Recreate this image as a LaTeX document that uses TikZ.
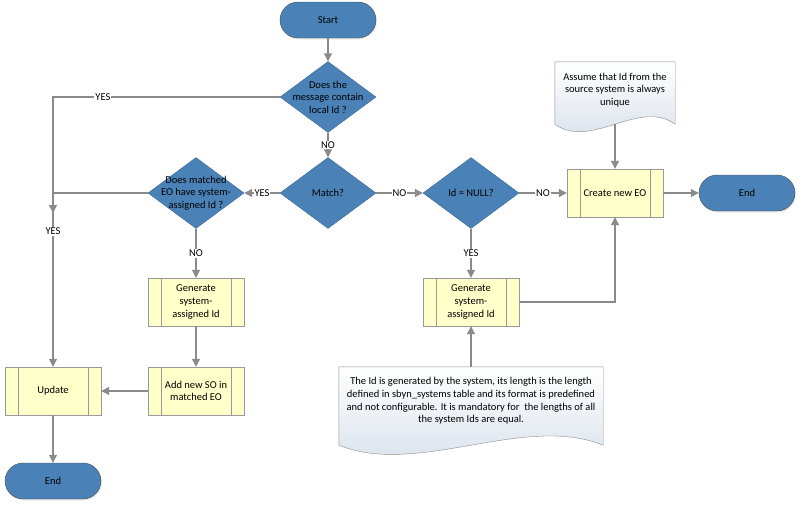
\documentclass[tikz,border=0pt]{standalone}
\usepackage{fontspec}
\setmainfont{Carlito}
\usetikzlibrary{shapes.geometric,arrows.meta,calc,backgrounds,shadows}
\definecolor{flowblue}{HTML}{4A82B7}
\definecolor{flowblueline}{HTML}{3B6A96}
\definecolor{procyellow}{HTML}{FFFFC9}
\definecolor{linegray}{HTML}{8A8A8A}
\definecolor{notebottom}{HTML}{D5DEEA}
\newcommand{\docshape}[3]{%
  \path[notebox] (#1.north west) -- (#1.north east) -- ($(#1.south east)+(0,-#2)$)
    .. controls ($(#1.south east)!.3!(#1.south west)+(0,-#2+#3)$) and ($(#1.south east)!.7!(#1.south west)+(0,-#2-#3)$) .. ($(#1.south west)+(0,-#2)$) -- cycle;}
\begin{document}
\begin{tikzpicture}[x=1pt,y=-1pt,
  font=\fontsize{10.5}{12.6}\selectfont,
  term/.style={draw=black!70, fill=flowblue, rounded corners=18pt, minimum width=96pt, minimum height=36pt, drop shadow={opacity=0.15,shadow xshift=1pt,shadow yshift=-1.5pt}},
  decision/.style={diamond, draw=flowblueline, fill=flowblue, minimum width=96pt, minimum height=71pt, inner sep=0pt},
  dtext/.style={align=center, inner sep=0pt},
  proc/.style={draw=black!40, fill=procyellow, minimum width=96pt, minimum height=48pt, align=center, inner sep=0pt,
    path picture={\draw[black!40] ([xshift=13pt]path picture bounding box.north west) -- ([xshift=13pt]path picture bounding box.south west)
      ([xshift=-13pt]path picture bounding box.north east) -- ([xshift=-13pt]path picture bounding box.south east);}},
  note/.style={align=center, inner sep=0pt},
  notebox/.style={draw=black!45, top color=white, bottom color=notebottom},
  wire/.style={draw=linegray, line width=1.1pt, -{Triangle[length=8pt,width=8pt]}},
  tag/.style={fill=white, inner sep=1pt}]
\useasboundingbox (0,0) rectangle (801,507);

\node[term] (start) at (328,20) {Start};
\node[decision, label={[dtext]center:Does the\\message contain\\local Id ?}] (q1) at (328,97) {};
\node[decision, label={[dtext]center:Match?}] (q2) at (328,193) {};
\node[decision, label={[dtext]center:Does matched\\EO have system-\\assigned Id ?}] (q3) at (196,193) {};
\node[decision, label={[dtext]center:Id = NULL?}] (q4) at (471,193) {};
\node[proc] (newEO) at (615,193) {Create new EO};
\node[term] (end2) at (747,193) {End};
\node[proc] (genB) at (471,302) {Generate\\system-\\assigned Id};
\node[proc] (genA) at (196,302) {Generate\\system-\\assigned Id};
\node[proc] (addSO) at (196,391) {Add new SO in\\matched EO};
\node[proc] (upd) at (53,391) {Update};
\node[term] (end1) at (53,481) {End};
\node[note, minimum width=120pt, minimum height=56pt] (n1) at (615,90) {Assume that Id from the\\source system is always\\unique};
\node[note, minimum width=264pt, minimum height=68pt] (n2) at (471,401) {The Id is generated by the system, its length is the length\\defined in sbyn\_systems table and its format is predefined\\and not configurable. It is mandatory for\ \ the lengths of all\\the system Ids are equal.};
\coordinate (jn) at (53,213);

\begin{pgfonlayer}{background}
\docshape{n1}{6pt}{26pt}
\docshape{n2}{10pt}{32pt}
\end{pgfonlayer}

\draw[wire] (start) -- (q1);
\draw[wire] (q1) -- node[tag] {NO} (q2);
\draw[wire] (q1.west) -| node[tag, pos=0.39] {YES} (jn);
\draw[wire] (q2) -- node[tag] {YES} (q3);
\draw[wire] (q2) -- node[tag] {NO} (q4);
\draw[wire] (q4) -- node[tag] {NO} (newEO);
\draw[wire] (newEO) -- (end2);
\draw[wire] ($(n1.south)+(0,-6pt)$) -- (newEO);
\draw[wire] (q4) -- node[tag] {YES} (genB);
\draw[wire] (genB.east) -| (newEO.south);
\draw[wire] (n2) -- (genB);
\draw[wire] (q3.west) -| node[tag, pos=0.61] {YES} (upd.north);
\draw[wire] (q3) -- node[tag] {NO} (genA);
\draw[wire] (genA) -- (addSO);
\draw[wire] (addSO) -- (upd);
\draw[wire] (upd) -- (end1);
\end{tikzpicture}
\end{document}
